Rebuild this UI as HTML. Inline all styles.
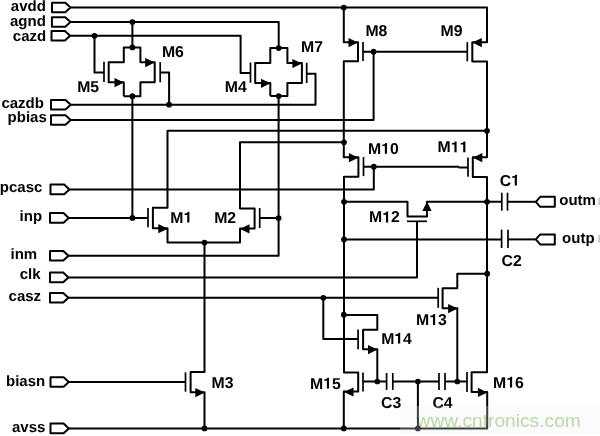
<!DOCTYPE html><html><head><meta charset="utf-8"><style>html,body{margin:0;padding:0;background:#fff;overflow:hidden}svg{display:block;}</style></head><body>
<svg width="600" height="436" viewBox="0 0 600 436">
<rect width="600" height="436" fill="#fff"/>
<g fill="none" stroke="#000" stroke-width="2.0" stroke-linejoin="round" stroke-linecap="butt">
<path d="M70.5 7.5 L487 7.5 L487 42.2 L472.3 42.2 L472.3 61.5 L487 61.5 L487 157.3 L472.8 157.3 L472.8 177 L487 177 L487 372.3 L471.6 372.3 L471.6 392 L487.2 392 L487.2 428.4 L68.8 428.4"/>
<path d="M70.5 22 L278.7 22 L278.7 48.1"/>
<path d="M70.1 35.8 L240.6 35.8 L240.6 73 L251 73"/>
<path d="M70.7 104.7 L315.5 104.7 L315.5 73.8 L306.7 73.8"/>
<path d="M70.7 120 L373.6 120 L373.6 51.7"/>
<path d="M69.4 189.4 L373.8 189.4 L373.8 166.7"/>
<path d="M68.7 217.9 L148 217.9"/>
<path d="M68.5 255.8 L278.6 255.8 L278.6 96"/>
<path d="M68.4 277.4 L417 277.4 L417 221.3"/>
<path d="M68.4 297.8 L438.2 297.8"/>
<path d="M68.8 382 L185.5 382"/>
<path d="M123.8 96.2 L140.4 96.2 L140.4 82.2 L154.7 82.2 L154.7 62.2 L140.4 62.2 L140.4 47.4 L123.8 47.4 L123.8 62.2 L108.7 62.2 L108.7 82.2 L123.8 82.2 L123.8 96.2"/>
<path d="M270.3 96 L287.4 96 L287.4 82.9 L301.9 82.9 L301.9 63.1 L287.4 63.1 L287.4 48.1 L270.3 48.1 L270.3 63.1 L255.2 63.1 L255.2 82.9 L270.3 82.9 L270.3 96"/>
<path d="M94.5 35.8 L94.5 72.6 L104 72.6"/>
<path d="M132.4 22 L132.4 47.4"/>
<path d="M132.4 96.2 L132.4 217.9"/>
<path d="M160.2 72.6 L169.1 72.6 L169.1 104.7"/>
<path d="M487 130.8 L167.5 130.8 L167.5 207.8 L152.9 207.8 L152.9 228.3 L167.5 228.3 L167.5 242.5 L240 242.5 L240 228.5 L254.6 228.5 L254.6 208.5 L240 208.5 L240 142.3 L344 142.3"/>
<path d="M259.7 218 L278.6 218"/>
<path d="M204.5 242.5 L204.5 372 L190.6 372 L190.6 392.2 L204.5 392.2 L204.5 428.4"/>
<path d="M343.8 7.5 L343.8 42.2 L358 42.2 L358 61.2 L343.8 61.2 L343.8 157.3 L358.4 157.3 L358.4 176.8 L344 176.8 L344 372.4 L358.2 372.4 L358.2 391.6 L343.8 391.6 L343.8 428.4"/>
<path d="M363 51.7 L467.3 51.7"/>
<path d="M363.5 166.7 L459 166.8"/>
<path d="M458.5 167.5 L468 167.5"/>
<path d="M344 201.8 L407.5 201.8 L407.5 216.4 L427 216.4 L427 201.8 L501.8 201.8"/>
<path d="M344 239.4 L501.6 239.4"/>
<path d="M507.5 201.8 L535.8 201.8"/>
<path d="M508 239.4 L535.8 239.4"/>
<path d="M487.2 273.7 L457.3 273.7 L457.3 288.2 L442.6 288.2 L442.6 308.2 L457.3 308.2 L457.3 381.3"/>
<path d="M323.3 297.8 L323.3 339 L358.1 339"/>
<path d="M343.8 314.9 L377.3 314.9 L377.3 329.7 L363.1 329.7 L363.1 349.2 L377.3 349.2 L377.3 381.5"/>
<path d="M363 381.5 L386.6 381.5"/>
<path d="M392.8 381.5 L439 381.5"/>
<path d="M445 381.5 L467 381.5"/>
<path d="M417.9 381.5 L417.9 428.4"/>
</g>
<g fill="none" stroke="#000" stroke-width="2.0" stroke-linejoin="round">
<path d="M52 2.7 L65.3 2.7 L70.5 7.5 L65.3 12.3 L52 12.3 Z"/>
<path d="M51.9 17.2 L65.3 17.2 L70.5 22 L65.3 26.8 L51.9 26.8 Z"/>
<path d="M51.5 31 L64.9 31 L70.1 35.8 L64.9 40.6 L51.5 40.6 Z"/>
<path d="M51 99.9 L65.5 99.9 L70.7 104.7 L65.5 109.5 L51 109.5 Z"/>
<path d="M51 115.2 L65.5 115.2 L70.7 120 L65.5 124.8 L51 124.8 Z"/>
<path d="M50.5 184.6 L64.2 184.6 L69.4 189.4 L64.2 194.2 L50.5 194.2 Z"/>
<path d="M50 213.1 L63.5 213.1 L68.7 217.9 L63.5 222.7 L50 222.7 Z"/>
<path d="M50 251 L63.3 251 L68.5 255.8 L63.3 260.6 L50 260.6 Z"/>
<path d="M50 272.6 L63.2 272.6 L68.4 277.4 L63.2 282.2 L50 282.2 Z"/>
<path d="M50 293 L63.2 293 L68.4 297.8 L63.2 302.6 L50 302.6 Z"/>
<path d="M50.5 377.2 L63.6 377.2 L68.8 382 L63.6 386.8 L50.5 386.8 Z"/>
<path d="M50.5 423.6 L63.6 423.6 L68.8 428.4 L63.6 433.2 L50.5 433.2 Z"/>
<path d="M535.8 201.8 L540.2 196.8 L554.8 196.8 L554.8 206.8 L540.2 206.8 Z"/>
<path d="M535.8 239.4 L540.2 234.4 L554.8 234.4 L554.8 244.4 L540.2 244.4 Z"/>
</g>
<g fill="none" stroke="#000" stroke-width="1.7" stroke-linecap="butt">
<path d="M104 61.8 L104 82"/>
<path d="M160.2 62.1 L160.2 82.3"/>
<path d="M250.5 62.5 L250.5 82.7"/>
<path d="M306.7 62.8 L306.7 83"/>
<path d="M148 207.9 L148 227.2"/>
<path d="M259.7 208.1 L259.7 228"/>
<path d="M185.5 372.3 L185.5 391.7"/>
<path d="M363 42.1 L363 61.1"/>
<path d="M467.3 42.1 L467.3 61.3"/>
<path d="M363.5 157.1 L363.5 176.1"/>
<path d="M468 157.5 L468 176.7"/>
<path d="M407 221.3 L427 221.3"/>
<path d="M501.8 192.7 L501.8 210.7"/>
<path d="M507.5 192.7 L507.5 210.7"/>
<path d="M501.6 229.7 L501.6 248"/>
<path d="M508 229.7 L508 248"/>
<path d="M438.2 287.8 L438.2 307.8"/>
<path d="M358.1 329.6 L358.1 349.2"/>
<path d="M363 372.5 L363 391.5"/>
<path d="M386.6 373.1 L386.6 389.9"/>
<path d="M392.8 373.1 L392.8 389.9"/>
<path d="M439 373.1 L439 389.9"/>
<path d="M445 373.1 L445 389.9"/>
<path d="M467 372.1 L467 392.1"/>
</g>
<g fill="#000">
<path d="M124 82.6 L114.5 78 L114.5 87.2 Z"/>
<path d="M154.7 62.6 L145.2 58 L145.2 67.2 Z"/>
<path d="M270.5 83.3 L261 78.7 L261 87.9 Z"/>
<path d="M301.9 63.5 L292.4 58.9 L292.4 68.1 Z"/>
<path d="M167.8 228.7 L158.3 224.1 L158.3 233.3 Z"/>
<path d="M240 228.9 L249.5 224.3 L249.5 233.5 Z"/>
<path d="M204.8 392.6 L195.3 388 L195.3 397.2 Z"/>
<path d="M358 42.6 L348.5 38 L348.5 47.2 Z"/>
<path d="M472.3 42.6 L481.8 38 L481.8 47.2 Z"/>
<path d="M358.4 157.7 L348.9 153.1 L348.9 162.3 Z"/>
<path d="M472.8 157.7 L482.3 153.1 L482.3 162.3 Z"/>
<path d="M427 201.6 L422.4 211.1 L431.6 211.1 Z"/>
<path d="M457.6 308.6 L448.1 304 L448.1 313.2 Z"/>
<path d="M377.5 349.6 L368 345 L368 354.2 Z"/>
<path d="M344 392 L353.5 387.4 L353.5 396.6 Z"/>
<path d="M487.4 392.4 L477.9 387.8 L477.9 397 Z"/>
<circle cx="94.5" cy="35.8" r="2.85"/>
<circle cx="132.4" cy="22" r="2.85"/>
<circle cx="132.4" cy="47.4" r="2.85"/>
<circle cx="132.4" cy="96.2" r="2.85"/>
<circle cx="169.1" cy="104.7" r="2.85"/>
<circle cx="278.7" cy="48.1" r="2.85"/>
<circle cx="278.7" cy="96" r="2.85"/>
<circle cx="132.4" cy="217.9" r="2.85"/>
<circle cx="278.6" cy="218" r="2.85"/>
<circle cx="204.5" cy="242.5" r="2.85"/>
<circle cx="204.5" cy="428.4" r="2.85"/>
<circle cx="343.8" cy="7.5" r="2.85"/>
<circle cx="373.6" cy="51.7" r="2.85"/>
<circle cx="487" cy="130.8" r="2.85"/>
<circle cx="344" cy="142.3" r="2.85"/>
<circle cx="373.8" cy="166.7" r="2.85"/>
<circle cx="344" cy="201.8" r="2.85"/>
<circle cx="487" cy="201.8" r="2.85"/>
<circle cx="344" cy="239.4" r="2.85"/>
<circle cx="487.2" cy="273.7" r="2.85"/>
<circle cx="457.3" cy="381.5" r="2.85"/>
<circle cx="323.3" cy="297.8" r="2.85"/>
<circle cx="343.8" cy="314.7" r="2.85"/>
<circle cx="377.3" cy="381.5" r="2.85"/>
<circle cx="343.8" cy="428.4" r="2.85"/>
<circle cx="417.9" cy="381.5" r="2.85"/>
<circle cx="417.9" cy="428.4" r="2.85"/>
</g>
<g font-family="Liberation Sans, sans-serif" font-weight="bold" font-size="15" fill="#000" text-rendering="geometricPrecision">
<text x="10.8" y="11">avdd</text>
<text x="10" y="25.6">agnd</text>
<text x="12.8" y="40.8">cazd</text>
<text x="1.4" y="108.2">cazdb</text>
<text x="7.6" y="122.4">pbias</text>
<text x="-0.2" y="191.6">pcasc</text>
<text x="19.6" y="220.6">inp</text>
<text x="10.5" y="259">inm</text>
<text x="19.7" y="279">clk</text>
<text x="8.6" y="301.1">casz</text>
<text x="6" y="385.5">biasn</text>
<text x="12" y="431.5">avss</text>
<text x="559.3" y="204.7">outm</text>
<text x="562.1" y="243">outp</text>
<text x="77.19" y="92.22" font-size="15.8">M5</text>
<text x="161.95" y="56.86" font-size="15.8">M6</text>
<text x="224.8" y="92.34" font-size="15.8">M4</text>
<text x="301.09" y="51.86" font-size="15.8">M7</text>
<text x="170.37" y="222.6" font-size="15.8">M&#8199;</text>
<text x="214.13" y="223.15" font-size="15.8">M2</text>
<text x="211.5" y="387.52" font-size="15.8">M3</text>
<text x="365.45" y="36.37" font-size="15.8">M8</text>
<text x="440.55" y="36.49" font-size="15.8">M9</text>
<text x="368.01" y="153.83" font-size="15.8">M&#8199;0</text>
<text x="437.58" y="152.33" font-size="15.8">M&#8199;&#8199;</text>
<text x="369.11" y="222.41" font-size="15.8">M&#8199;2</text>
<text x="416.12" y="324.9" font-size="15.8">M&#8199;3</text>
<text x="381.16" y="343.61" font-size="15.8">M&#8199;4</text>
<text x="310.02" y="388.52" font-size="15.8">M&#8199;5</text>
<text x="493.11" y="387.54" font-size="15.8">M&#8199;6</text>
<text x="499.64" y="185.54" font-size="15.8">C&#8199;</text>
<text x="501.48" y="266.17" font-size="15.8">C2</text>
<text x="381.01" y="408.43" font-size="15.8">C3</text>
<text x="432.41" y="408" font-size="15.8">C4</text>
</g>
<g fill="#000">
<path d="M187.22 222.6 L189.39 222.6 L189.39 211.73 L187.74 211.73 L187.43 212.45 L186.82 213 L185.85 213.3 L184.62 213.42 L184.62 214.89 L187.22 214.89 Z"/>
<path d="M384.86 153.83 L387.03 153.83 L387.03 142.96 L385.38 142.96 L385.07 143.68 L384.46 144.23 L383.49 144.53 L382.26 144.65 L382.26 146.12 L384.86 146.12 Z"/>
<path d="M454.43 152.33 L456.6 152.33 L456.6 141.46 L454.95 141.46 L454.64 142.18 L454.03 142.73 L453.06 143.03 L451.83 143.15 L451.83 144.62 L454.43 144.62 Z"/>
<path d="M463.22 152.33 L465.39 152.33 L465.39 141.46 L463.74 141.46 L463.43 142.18 L462.81 142.73 L461.85 143.03 L460.62 143.15 L460.62 144.62 L463.22 144.62 Z"/>
<path d="M385.96 222.41 L388.13 222.41 L388.13 211.54 L386.48 211.54 L386.17 212.26 L385.56 212.81 L384.59 213.11 L383.36 213.23 L383.36 214.7 L385.96 214.7 Z"/>
<path d="M432.97 324.9 L435.14 324.9 L435.14 314.03 L433.49 314.03 L433.18 314.75 L432.57 315.3 L431.6 315.6 L430.37 315.72 L430.37 317.19 L432.97 317.19 Z"/>
<path d="M398.01 343.61 L400.18 343.61 L400.18 332.74 L398.53 332.74 L398.22 333.46 L397.61 334.01 L396.64 334.31 L395.41 334.43 L395.41 335.9 L398.01 335.9 Z"/>
<path d="M326.87 388.52 L329.04 388.52 L329.04 377.65 L327.39 377.65 L327.08 378.37 L326.47 378.92 L325.5 379.22 L324.27 379.34 L324.27 380.81 L326.87 380.81 Z"/>
<path d="M509.96 387.54 L512.13 387.54 L512.13 376.67 L510.48 376.67 L510.17 377.39 L509.56 377.94 L508.59 378.24 L507.36 378.36 L507.36 379.83 L509.96 379.83 Z"/>
<path d="M514.73 185.54 L516.9 185.54 L516.9 174.67 L515.25 174.67 L514.94 175.39 L514.32 175.94 L513.36 176.24 L512.13 176.36 L512.13 177.83 L514.73 177.83 Z"/>
</g>
<rect x="400" y="406" width="200" height="27" fill="#f2f2f2" fill-opacity="0.27"/>
<text x="416.6" y="426.8" font-family="Liberation Sans, sans-serif" font-size="19.2" fill="#b9e0a8" style="mix-blend-mode:multiply">www.cntronics.com</text>
<rect x="598.3" y="197.5" width="1.7" height="7.5" fill="#c8c8c8"/>
<rect x="598.3" y="235.2" width="1.7" height="7.5" fill="#c8c8c8"/>
</svg></body></html>
